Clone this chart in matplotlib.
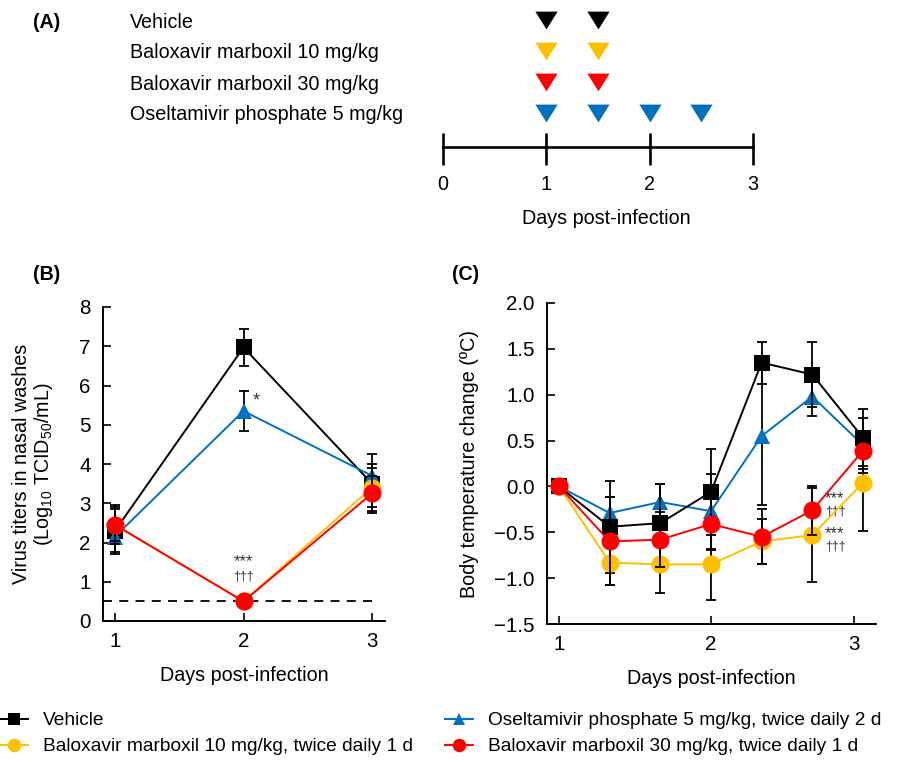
import matplotlib
matplotlib.use('Agg')
import matplotlib.pyplot as plt
from matplotlib.transforms import blended_transform_factory

plt.rcParams['font.family'] = ['Liberation Sans', 'DejaVu Sans']
plt.rcParams['mathtext.default'] = 'regular'

# (A) dosing schedule
groups = ['Vehicle', 'Baloxavir marboxil 10 mg/kg', 'Baloxavir marboxil 30 mg/kg',
          'Oseltamivir phosphate 5 mg/kg']
dose_days = [[1, 1.5], [1, 1.5], [1, 1.5], [1, 1.5, 2, 2.5]]
timeline_ticks = [0, 1, 2, 3]

# (B) virus titers
days_b = [1, 2, 3]
veh_b = [2.3, 6.97, 3.5]
veh_b_err = [0.6, 0.47, 0.75]
osel_b = [2.15, 5.35, 3.7]
osel_b_err = [0.4, 0.5, 0.3]
bxm10_b = [2.45, 0.5, 3.4]
bxm10_b_err = [0.5, 0.0, 0.5]
bxm30_b = [2.45, 0.5, 3.25]
bxm30_b_err = [0.4, 0.0, 0.45]
detection_limit = 0.5

# (C) body temperature change
days_c = [1, 4/3, 5/3, 2, 7/3, 8/3, 3]
veh_c = [0, -0.44, -0.40, -0.06, 1.35, 1.22, 0.53]
veh_c_err = [0, 0.5, 0.43, 0.47, 0.23, 0.35, 0.31]
osel_c = [0, -0.29, -0.17, -0.27, 0.55, 0.98, 0.45]
osel_c_err = [0, 0.18, 0.2, 0.41, 0.75, 0.21, 0.3]
bxm10_c = [0, -0.83, -0.85, -0.85, -0.6, -0.53, 0.04]
bxm10_c_err = [0, 0.25, 0.31, 0.39, 0.25, 0.51, 0.53]
bxm30_c = [0, -0.6, -0.58, -0.41, -0.55, -0.26, 0.39]
bxm30_c_err = [0, 0.48, 0.3, 0.28, 0.3, 0.27, 0.2]

legend_labels = ['Vehicle', 'Baloxavir marboxil 10 mg/kg, twice daily 1 d',
                 'Oseltamivir phosphate 5 mg/kg, twice daily 2 d',
                 'Baloxavir marboxil 30 mg/kg, twice daily 1 d']

colors = ['#000000', '#FFC000', '#FF0000', '#0070C0']   # veh, bxm10, bxm30, osel
black, yellow, red, blue = colors

FS = 14.2
W, H = 898, 762
fig = plt.figure(figsize=(W / 100, H / 100), dpi=100)


def px_axes(x0, y0, x1, y1):
    # pixel box (top-left origin) -> figure axes
    return fig.add_axes([x0 / W, 1 - y1 / H, (x1 - x0) / W, (y1 - y0) / H])


# ---------------- (A) ----------------
axA = px_axes(0, 0, W, 240)
axA.set_xlim(-443 / 103.3, (W - 443) / 103.3)
axA.set_ylim(240, 0)
axA.axis('off')
tri = [(-1, 0.8), (1, 0.8), (0, -0.8)]
trans = blended_transform_factory(fig.transFigure, axA.transData)
for i in range(len(groups)):
    yrow = 20 + 31 * i
    axA.text(130 / W, yrow + 2, groups[i], transform=trans, fontsize=FS,
             ha='left', va='center')
    axA.plot(dose_days[i], [yrow] * len(dose_days[i]), linestyle='none',
             marker=tri, markersize=16, color=colors[i], markeredgewidth=0)
axA.plot([timeline_ticks[0], timeline_ticks[-1]], [147, 147], color='black', lw=1.9)
axA.vlines(timeline_ticks, 133, 165, color='black', lw=1.9)
for d in timeline_ticks:
    axA.text(d, 185, str(d), ha='center', va='center', fontsize=FS)
axA.text(1.58, 218, 'Days post-infection', ha='center', va='center', fontsize=FS)
fig.text(33 / W, 1 - 22 / H, '(A)', fontsize=FS, fontweight='bold', va='center')


def style_axis(ax):
    ax.spines['top'].set_visible(False)
    ax.spines['right'].set_visible(False)
    ax.spines['left'].set_linewidth(1.4)
    ax.spines['bottom'].set_linewidth(1.4)
    ax.tick_params(direction='in', length=6, width=1.2, labelsize=14.8)
    ax.tick_params(axis='x', pad=8)
    ax.tick_params(axis='y', pad=9)


def draw_series(ax, x, y, err, color, marker, ms, z):
    ax.errorbar(x, y, yerr=err, fmt='none', ecolor='black', elinewidth=1.3,
                capsize=3.5, capthick=1.3, zorder=z)
    return ax.plot(x, y, color=color, marker=marker, markersize=ms, lw=1.4,
                   markeredgewidth=0, zorder=z + 0.5)[0]


# ---------------- (B) ----------------
axB = px_axes(103, 307, 385, 621)
style_axis(axB)
axB.axhline(detection_limit, xmax=0.98, color='black', lw=1.3,
            linestyle=(0, (5, 4)), zorder=1)
h_veh = draw_series(axB, days_b, veh_b, veh_b_err, black, 's', 12, 2)
h_osel = draw_series(axB, days_b, osel_b, osel_b_err, blue, '^', 12, 3)
h_b10 = draw_series(axB, days_b, bxm10_b, bxm10_b_err, yellow, 'o', 13, 4)
h_b30 = draw_series(axB, days_b, bxm30_b, bxm30_b_err, red, 'o', 13, 5)
axB.set_xlim(1 - 12 / 128.5, 3 + 13 / 128.5)
axB.set_ylim(0, 8)
axB.set_xticks([1, 2, 3])
axB.set_yticks(range(0, 9))
axB.set_xlabel('Days post-infection', fontsize=FS, labelpad=11)
axB.set_ylabel('Virus titers in nasal washes\n(Log$_{10}$ TCID$_{50}$/mL)', fontsize=FS,
               labelpad=17, linespacing=1.1)
axB.text(2.07, 5.6, '*', fontsize=13, color='#333333', ha='left', va='center')
axB.text(2.0, 1.5, '***', fontsize=12, color='#333333', ha='center', va='center')
axB.text(2.0, 1.13, '\u2020\u2020\u2020', fontsize=9, color='#333333', ha='center', va='center')
fig.text(33 / W, 1 - 275 / H, '(B)', fontsize=FS, fontweight='bold', va='center')

# ---------------- (C) ----------------
axC = px_axes(547, 303, 876, 624)
style_axis(axC)
draw_series(axC, days_c, osel_c, osel_c_err, blue, '^', 12, 2)
draw_series(axC, days_c, veh_c, veh_c_err, black, 's', 12, 3)
draw_series(axC, days_c, bxm10_c, bxm10_c_err, yellow, 'o', 13, 4)
draw_series(axC, days_c, bxm30_c, bxm30_c_err, red, 'o', 13, 5)
axC.set_xlim(1 - 12 / 152, 1 + 317 / 152)
axC.set_ylim(-1.5, 2.0)
axC.set_xticks([1, 2, 2.94])
axC.set_xticklabels(['1', '2', '3'])
axC.set_yticks([-1.5, -1.0, -0.5, 0.0, 0.5, 1.0, 1.5, 2.0])
axC.yaxis.set_major_formatter(
    matplotlib.ticker.FuncFormatter(lambda v, p: ('%.1f' % v).replace('-', '\u2212')))
axC.set_xlabel('Days post-infection', fontsize=FS, labelpad=11)
axC.set_ylabel('Body temperature change (\u00baC)', fontsize=FS, labelpad=11)
for yy in [-0.13, -0.52]:
    axC.text(2.745, yy, '***', fontsize=12, color='#333333', ha='left', va='center')
    axC.text(2.75, yy - 0.14, '\u2020\u2020\u2020', fontsize=9, color='#333333',
             ha='left', va='center')
fig.text(452 / W, 1 - 275 / H, '(C)', fontsize=FS, fontweight='bold', va='center')

# ---------------- legend ----------------
handles = [h_veh, h_b10, h_osel, h_b30]
fig.legend(handles, legend_labels, ncol=2, loc='upper left',
           bbox_to_anchor=(0.0, 1 - 712 / H), frameon=False, fontsize=13.75,
           handlelength=1.45, handletextpad=0.8, columnspacing=1.68,
           labelspacing=0.45, markerscale=0.75, borderpad=0, borderaxespad=0)

fig.savefig('out.png', dpi=100)
